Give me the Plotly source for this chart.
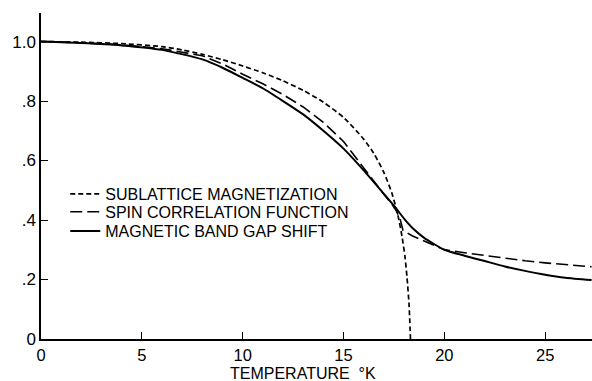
import plotly.graph_objects as go

# Temperature (K) and normalised values
t_sub = [0, 2, 4, 6, 7, 8, 9, 10, 11, 12, 13, 14, 15, 16, 16.5, 17, 17.4, 17.7, 17.9, 18.05, 18.15, 18.25, 18.32]
sublattice = [1.0, 0.998, 0.993, 0.983, 0.972, 0.957, 0.939, 0.918, 0.895, 0.868, 0.836, 0.796, 0.745,
              0.672, 0.624, 0.56, 0.49, 0.415, 0.345, 0.275, 0.205, 0.115, 0.0]

t_spin = [0, 2, 4, 6, 8, 9, 10, 11, 12, 13, 14, 15, 16, 16.6, 17, 17.3, 17.6, 17.8, 17.95,
          18.4, 18.8, 19.4, 20, 21, 22, 23, 24, 25, 26, 27.3]
spin_corr = [1.0, 0.996, 0.989, 0.976, 0.952, 0.925, 0.89, 0.858, 0.822, 0.78, 0.728, 0.664, 0.575,
             0.52, 0.487, 0.462, 0.433, 0.405, 0.365, 0.347, 0.335, 0.316, 0.30, 0.29, 0.281,
             0.271, 0.263, 0.256, 0.25, 0.243]

t_band = [0, 2, 4, 6, 8, 9, 10, 11, 12, 13, 14, 15, 16, 17, 17.6, 18, 18.5, 19, 20, 21, 22, 23,
          24, 25, 26, 27.3]
band_gap = [1.0, 0.995, 0.987, 0.972, 0.94, 0.912, 0.878, 0.843, 0.80, 0.755, 0.70, 0.64, 0.567,
            0.488, 0.44, 0.405, 0.368, 0.34, 0.300, 0.280, 0.262, 0.244, 0.229, 0.216, 0.206, 0.198]

x_ticks = [0, 5, 10, 15, 20, 25]
x_tick_labels = ["0", "5", "10", "15", "20", "25"]
y_ticks = [0, 0.2, 0.4, 0.6, 0.8, 1.0]
y_tick_labels = ["0", ".2", ".4", ".6", ".8", "1.0"]

names = ["SUBLATTICE MAGNETIZATION", "SPIN CORRELATION FUNCTION", "MAGNETIC BAND GAP SHIFT"]

FONT = "Liberation Sans, Arial, Helvetica, sans-serif"

fig = go.Figure()
fig.add_trace(go.Scatter(x=t_sub, y=sublattice, mode="lines", name=names[0], legend="legend",
                         line=dict(color="black", width=1.7, dash="5px,3px", shape="spline", smoothing=0.6)))
fig.add_trace(go.Scatter(x=t_spin, y=spin_corr, mode="lines", name=names[1], legend="legend2",
                         line=dict(color="black", width=1.6, dash="12px,5px", shape="linear")))
fig.add_trace(go.Scatter(x=t_band, y=band_gap, mode="lines", name=names[2], legend="legend3",
                         line=dict(color="black", width=2, shape="spline", smoothing=0.6)))

leg_common = dict(xanchor="left", yanchor="middle", bgcolor="rgba(0,0,0,0)",
                  font=dict(size=16, family=FONT, color="black"), itemwidth=30)
lx = 0.044
fig.update_layout(
    width=592, height=381,
    margin=dict(l=41, r=0, t=13, b=42),
    paper_bgcolor="white", plot_bgcolor="white",
    font=dict(family=FONT, color="black"),
    showlegend=True,
    legend=dict(x=lx, y=0.445, **leg_common),
    legend2=dict(x=lx, y=0.390, **leg_common),
    legend3=dict(x=lx, y=0.331, **leg_common),
    xaxis=dict(range=[0, 27.32], showgrid=False, zeroline=False, showline=True,
               linecolor="black", linewidth=1.5, ticks="inside", ticklen=7, tickwidth=1.2,
               tickcolor="black", tickvals=x_ticks, ticktext=x_tick_labels,
               tickfont=dict(size=16.5, family=FONT, color="black"), ticklabelstandoff=0),
    yaxis=dict(range=[0, 1.096], showgrid=False, zeroline=False, showline=True,
               linecolor="black", linewidth=1.5, ticks="inside", ticklen=7, tickwidth=1.2,
               tickcolor="black", tickvals=y_ticks, ticktext=y_tick_labels,
               tickfont=dict(size=17, family=FONT, color="black")),
    annotations=[dict(text="TEMPERATURE  °K", x=13.0, y=0, xref="x", yref="paper",
                      yshift=-34, yanchor="middle", xanchor="center", showarrow=False,
                      font=dict(size=16, family=FONT, color="black"))],
)

fig.write_html("out.html")
